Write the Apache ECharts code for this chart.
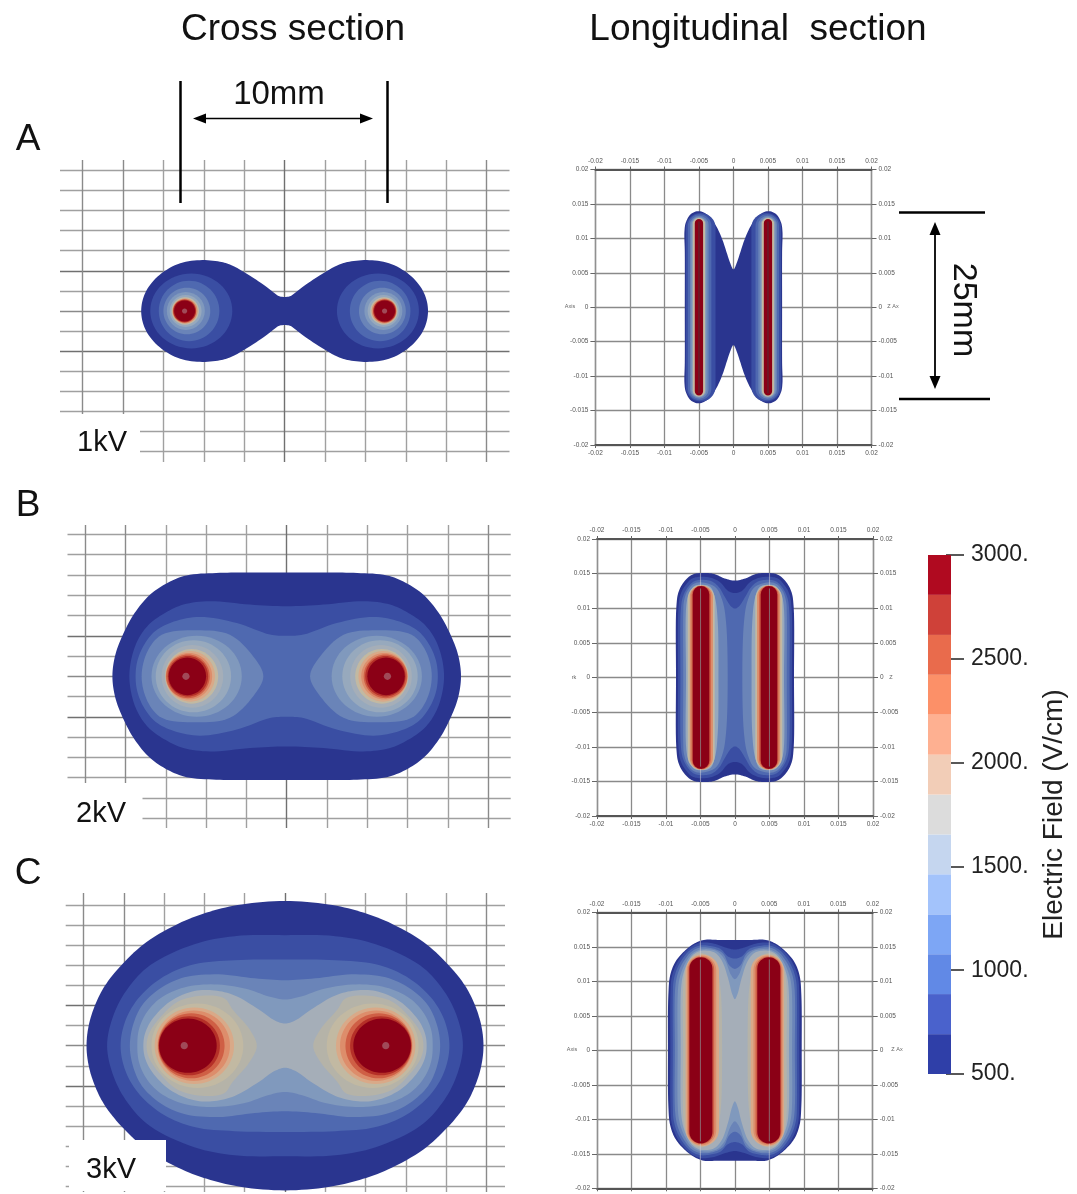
<!DOCTYPE html>
<html><head><meta charset="utf-8">
<style>html,body{margin:0;padding:0;background:#fff}#c{width:1077px;height:1194px}canvas{filter:blur(.5px)}</style>
<script src="https://cdn.jsdelivr.net/npm/echarts@6/dist/echarts.min.js"></script>
</head><body><div id="c"></div>
<script>
// ---------- data ----------
const crossXTicks = [-10,-8,-6,-4,-2,0,2,4,6,8,10];           // mm
const crossYTicks = [-7,-6,-5,-4,-3,-2,-1,0,1,2,3,4,5,6,7];   // mm
const longTickStep = 0.005;                                   // m
const colorbarTicks = [500,1000,1500,2000,2500,3000];
const colorbarEdges = [500,692,885,1077,1269,1462,1654,1846,2038,2231,2423,2615,2808,3000];
const colorbarColors = ['#2f3fa8','#4a62cc','#6189e6','#7da6f5','#a3c3fb','#c5d6ef','#dcdcdc','#f2cdb7','#feb091','#fc9068','#e96b4c','#cf4139','#b00a20'];
const levelColors = ['#2a358f','#3a4ea3','#4f69b0','#6a84b8','#8099bd','#97a9bd','#a5aeb8','#c2b9a2','#d9a988','#dd8d6b','#cf5f45','#b53028','#8b0016','#a04a58','#6d1826','#b5b3a8','rgba(205,205,215,.55)','#8c6a70'];

// b = outline quadrant, l = lobe upper half, e = ellipse [cx,rx,ry], s = stadium [xin,xout,ytop]; all mm
const crossAShapes = [
 ['b',0,[[0,.7],[.3,.75],[.7,1.05],[1.4,1.55],[2.63,2.28],[3.2,2.45],[4.2,2.53],[5.3,2.33],[6.3,1.7],[6.9,.9],[7.1,0]]],
 ['e',1,4.62,2.03,1.86],['e',2,4.73,1.5,1.5],['e',3,4.84,1.16,1.16],['e',4,4.89,.94,.94],['e',5,4.9,.79,.79],
 ['e',7,4.92,.68,.68],['e',9,4.93,.62,.62],['e',11,4.95,.57,.57],['e',12,4.95,.52,.52],['e',13,4.95,.13,.13]
];
const crossBShapes = [
 ['b',0,[[0,5.12],[2,5.12],[3.5,5.1],[4.97,4.98],[5.9,4.62],[6.79,4.02],[7.55,3.12],[8.1,2.12],[8.5,1.08],[8.65,0]]],
 ['b',1,[[0,3.46],[1.82,3.54],[3.8,3.71],[5.13,3.54],[6,3.15],[6.79,2.6],[7.3,1.95],[7.65,1.1],[7.81,0]]],
 ['b',2,[[0,2],[.83,2.06],[2.48,2.63],[4.3,2.93],[5.6,2.7],[6.5,2.25],[7.05,1.6],[7.4,.8],[7.5,0]]],
 ['l',3,[[1.16,0],[1.66,.98],[2.82,2.05],[4.47,2.27],[6.2,2.05],[6.9,1.25],[7.2,0]]],
 ['e',4,4.47,2.24,2],['e',5,4.63,1.87,1.78],['e',6,4.68,1.53,1.55],['e',7,4.72,1.32,1.35],['e',8,4.78,1.22,1.25],
 ['e',9,4.85,1.15,1.15],['e',10,4.9,1.08,1.08],['e',11,4.9,1,1],['e',12,4.93,.93,.93],['e',13,5,.18,.18]
];
const crossCShapes = [
 ['b',0,[[0,7.2],[2.15,7.03],[3.7,6.68],[5.13,6.15],[6.87,5.16],[8.03,4.1],[8.86,3.1],[9.35,2.2],[9.72,1.1],[9.85,0]]],
 ['b',1,[[0,5.5],[2.5,5.45],[4.5,5.05],[6.7,4],[7.8,2.85],[8.5,1.55],[8.83,0]]],
 ['b',2,[[0,4.29],[2.5,4.25],[4.5,4.05],[6,3.45],[7.2,2.45],[7.9,1.3],[8.16,0]]],
 ['b',3,[[0,3.26],[1.5,3.35],[3.3,3.55],[5,3.4],[6.2,2.85],[7.1,2],[7.55,1],[7.7,0]]],
 ['b',4,[[0,2.3],[.8,2.45],[2,2.85],[3.5,3.05],[5,2.9],[6.2,2.35],[6.9,1.6],[7.25,.8],[7.33,0]]],
 ['b',6,[[0,1.1],[.5,1.25],[1.3,1.8],[2.5,2.5],[3.5,2.75],[4.5,2.72],[5.7,2.2],[6.6,1.3],[6.95,.6],[7.03,0]]],
 ['l',15,[[1.4,0],[1.75,.8],[2.6,1.8],[3,2.35],[4,2.5],[5.3,2.2],[6.2,1.4],[6.75,.6],[6.87,0]]],
 ['e',7,4.35,2.28,2.1],['e',8,4.5,1.97,1.9],['e',9,4.53,1.8,1.75],['e',10,4.65,1.65,1.62],['e',11,4.75,1.52,1.47],['e',12,4.82,1.43,1.35],['e',13,5,.18,.18]
];
const longAShapes = [
 ['b',0,[[0,5.5],[.5,6.5],[1,8],[1.6,9.8],[2.4,11.6],[3.6,13.3],[5,13.95],[6.2,13.5],[6.9,12.3],[7.1,11],[7.05,8],[7.05,0]]],
 ['s',1,2.6,6.9,13.7],['s',2,3.2,6.6,13.5],['s',3,3.6,6.3,13.3],['s',4,3.9,6.1,13.1],['s',7,4.1,5.9,13],['s',12,4.4,5.6,12.8],['s',14,4.87,5.13,12.5]
];
const longBShapes = [
 ['b',0,[[0,14],[1.5,14.3],[3,14.95],[4.8,15.1],[6.2,14.85],[7.4,13.8],[8.2,12.3],[8.5,10.2],[8.55,0]]],
 ['b',1,[[0,12.2],[1,12.5],[2.2,13.8],[3.5,14.4],[4.9,14.55],[6.2,14.3],[7.2,13.3],[7.9,12],[8.2,10],[8.25,0]]],
 ['b',2,[[0,9.95],[.6,10.3],[1.4,11.5],[2.3,13],[3.4,13.9],[4.9,14.1],[6,13.85],[7,12.8],[7.6,11.5],[7.85,9.8],[7.9,0]]],
 ['l',3,[[1.06,0],[1.3,8],[1.8,11],[2.8,13],[4.9,13.75],[6,13.5],[6.9,12.5],[7.4,11],[7.5,9.5],[7.5,0]]],
 ['l',5,[[2.4,0],[2.5,8],[2.9,11.5],[3.6,13.1],[4.9,13.4],[5.9,13.2],[6.7,12],[7.05,10.5],[7.1,0]]],
 ['s',7,2.95,6.85,13.35],['s',9,3.2,6.55,13.3],['s',10,3.5,6.3,13.25],['s',16,4.92,5.08,15.1],['s',12,3.72,6.13,13.2],['s',17,4.92,5.06,12.9]
];
const longCShapes = [
 ['b',0,[[0,16],[2.5,16],[4.5,16],[6,15.4],[7.5,14.2],[8.7,12.7],[9.4,10.8],[9.65,8],[9.7,0]]],
 ['b',1,[[0,14.6],[1.4,14.9],[3,15.45],[5,15.6],[6.5,14.9],[7.8,13.6],[8.7,12],[9.2,10.4],[9.35,8],[9.35,0]]],
 ['b',2,[[0,13.3],[1,13.6],[2.1,14.7],[3.5,15.1],[5,15.2],[6.4,14.6],[7.5,13.4],[8.4,11.8],[8.9,10],[9,8],[9,0]]],
 ['b',3,[[0,11.8],[.8,12.3],[1.7,14],[3,14.7],[5,14.9],[6.3,14.3],[7.3,13.1],[8.1,11.6],[8.6,9.6],[8.7,0]]],
 ['b',4,[[0,10.3],[.6,11],[1.5,13.2],[2.7,14.4],[5,14.6],[6.2,14],[7.1,12.8],[7.8,11.2],[8.2,9.4],[8.3,0]]],
 ['b',6,[[0,7.4],[.4,8.2],[1,10.5],[1.9,13],[3,14.2],[5,14.4],[6.1,13.8],[6.9,12.6],[7.5,11],[7.8,9],[7.85,0]]],
 ['l',15,[[1.85,0],[2,8],[2.4,11],[3,13.1],[4.9,14.1],[6.1,13.7],[6.9,12.4],[7.4,10.5],[7.5,0]]],
 ['s',8,2.3,7.15,13.9],['s',9,2.7,6.95,13.75],['s',10,3,6.75,13.6],['s',16,4.92,5.08,16],['s',12,3.25,6.6,13.5],['s',17,4.93,5.07,13.2]
];

// ---------- helpers ----------
const FONT = '"Liberation Sans", Arial, sans-serif';
function closedBridge(q){ const a=q.slice();
  for(let i=q.length-2;i>=0;i--) a.push([q[i][0],-q[i][1]]);
  for(let i=1;i<q.length;i++) a.push([-q[i][0],-q[i][1]]);
  for(let i=q.length-2;i>0;i--) a.push([-q[i][0],q[i][1]]);
  return a; }
function closedLobe(u,sign){ const a=u.map(p=>[sign*p[0],p[1]]);
  for(let i=u.length-2;i>0;i--) a.push([sign*u[i][0],-u[i][1]]);
  return a; }
// centripetal Catmull-Rom outline through the read points
function roundOutline(P){ const n=P.length,out=[];
  const knot=(a,b)=>Math.pow(Math.hypot(b[0]-a[0],b[1]-a[1]),.5)||1e-6;
  const lerp=(a,b,ta,tb,t)=>{const w=(t-ta)/(tb-ta);return [a[0]+(b[0]-a[0])*w,a[1]+(b[1]-a[1])*w];};
  for(let i=0;i<n;i++){
    const p0=P[(i-1+n)%n],p1=P[i],p2=P[(i+1)%n],p3=P[(i+2)%n];
    const t0=0,t1=t0+knot(p0,p1),t2=t1+knot(p1,p2),t3=t2+knot(p2,p3);
    for(let j=0;j<8;j++){
      const t=t1+(t2-t1)*j/8;
      const A1=lerp(p0,p1,t0,t1,t),A2=lerp(p1,p2,t1,t2,t),A3=lerp(p2,p3,t2,t3,t);
      const B1=lerp(A1,A2,t0,t2,t),B2=lerp(A2,A3,t1,t3,t);
      out.push(lerp(B1,B2,t1,t2,t));
    }
  }
  return out; }
function shapeRender(shapes,unit){
  return function(params,api){
    const s=shapes[api.value(0)], col=levelColors[s[1]], kids=[];
    const C=p=>api.coord([p[0]*unit,p[1]*unit]);
    const poly=pts=>kids.push({type:'polygon',shape:{points:roundOutline(pts).map(C)},style:{fill:col}});
    if(s[0]==='b') poly(closedBridge(s[2]));
    if(s[0]==='l'){ poly(closedLobe(s[2],1)); poly(closedLobe(s[2],-1)); }
    if(s[0]==='e') [1,-1].forEach(k=>{
      const c=C([k*s[2],0]), e=C([k*s[2]+s[3],s[4]]);
      kids.push({type:'ellipse',shape:{cx:c[0],cy:c[1],rx:Math.abs(e[0]-c[0]),ry:Math.abs(e[1]-c[1])},style:{fill:col}});
    });
    if(s[0]==='s') [1,-1].forEach(k=>{
      const a=C([k*s[2],s[4]]), b=C([k*s[3],-s[4]]);
      const x=Math.min(a[0],b[0]), w=Math.abs(a[0]-b[0]);
      kids.push({type:'rect',shape:{x:x,y:a[1],width:w,height:b[1]-a[1],r:w/2},style:{fill:col}});
    });
    return {type:'group',children:kids};
  };
}
const grid=[],xAxis=[],yAxis=[],series=[];
const darkRows=['#a0a0a0','#a0a0a0','#a0a0a0','#a0a0a0','#a0a0a0','#707070','#a0a0a0','#8a8a8a','#a0a0a0','#707070','#a0a0a0','#a0a0a0','#a0a0a0','#a0a0a0','#a0a0a0'];
const darkCols=['#8a8a8a','#8a8a8a','#a0a0a0','#a0a0a0','#a0a0a0','#707070','#a0a0a0','#a0a0a0','#a0a0a0','#a0a0a0','#8a8a8a'];
function crossPanel(shapes,p){
  const i=grid.length;
  grid.push({left:p.L,top:p.T,width:p.R-p.L,height:p.B-p.T,outerBoundsMode:'none'});
  xAxis.push({type:'value',gridIndex:i,min:(p.L-p.cx)/p.sx,max:(p.R-p.cx)/p.sx,axisLine:{show:false},axisLabel:{show:false},
    axisTick:{show:false,customValues:crossXTicks},splitLine:{show:true,lineStyle:{color:darkCols,width:1.4}}});
  yAxis.push({type:'value',gridIndex:i,min:(p.cy-p.B)/p.sy,max:(p.cy-p.T)/p.sy,axisLine:{show:false},axisLabel:{show:false},
    axisTick:{show:false,customValues:crossYTicks},splitLine:{show:true,lineStyle:{color:darkRows,width:1.4}}});
  series.push({type:'custom',coordinateSystem:'cartesian2d',xAxisIndex:xAxis.length-1,yAxisIndex:yAxis.length-1,silent:true,
    animation:false,clip:false,renderItem:shapeRender(shapes,1),data:shapes.map((s,k)=>[k,0]),z:5});
}
const longFmt=v=>String(+v.toFixed(3));
function longPanel(shapes,p){
  const i=grid.length;
  const mk=(pos,show,isX)=>({type:'value',gridIndex:i,position:pos,min:-0.02,max:0.02,interval:longTickStep,
    axisLine:{show:true,onZero:false,lineStyle:{color:isX?'#555':'#909090',width:isX?1.8:1.4}},
    axisLabel:{fontSize:6.5,color:'#555',fontFamily:FONT,margin:isX?5:7,formatter:longFmt},
    axisTick:{show:true,length:isX?3:5,lineStyle:{color:'#666'}},
    splitLine:{show:show,lineStyle:{color:'#8a8a8a',width:1.3}}});
  grid.push({left:p.L,top:p.T,width:p.R-p.L,height:p.B-p.T,outerBoundsMode:'none'});
  xAxis.push(mk('bottom',true,true),mk('top',false,true));
  yAxis.push(mk('left',true,false),mk('right',false,false));
  series.push({type:'custom',coordinateSystem:'cartesian2d',xAxisIndex:xAxis.length-2,yAxisIndex:yAxis.length-2,silent:true,
    animation:false,clip:false,renderItem:shapeRender(shapes,0.001),data:shapes.map((s,k)=>[k,0]),z:5});
}
crossPanel(crossAShapes,{cx:284.6,cy:311,sx:20.2,sy:20.1,L:60,R:509.5,T:160,B:462});
crossPanel(crossBShapes,{cx:286.7,cy:676.3,sx:20.15,sy:20.26,L:67.5,R:510.7,T:525,B:828});
crossPanel(crossCShapes,{cx:285,cy:1045.7,sx:20.15,sy:20.1,L:65.7,R:505,T:893,B:1192});
longPanel(longAShapes,{L:595.4,R:871.5,T:169.5,B:445});
longPanel(longBShapes,{L:597,R:873,T:539,B:816});
longPanel(longCShapes,{L:597,R:872.7,T:912.3,B:1188.3});

// colour bar
{const i=grid.length;
 grid.push({left:928,top:555,width:23,height:519,outerBoundsMode:'none'});
 xAxis.push({type:'value',gridIndex:i,min:0,max:1,show:false});
 yAxis.push({type:'value',gridIndex:i,position:'right',offset:13,min:500,max:3000,interval:500,
   axisLine:{show:false,onZero:false},axisTick:{show:true,inside:true,length:18,lineStyle:{color:'#222',width:1.5}},splitLine:{show:false},
   axisLabel:{color:'#222',fontSize:23,fontFamily:FONT,margin:7,formatter:v=>colorbarTicks.includes(v)?v+'.':''},
   name:'Electric Field (V/cm)',nameLocation:'middle',nameRotate:90,nameGap:76,
   nameTextStyle:{fontSize:28,color:'#222',fontFamily:FONT}});
 series.push({type:'custom',coordinateSystem:'cartesian2d',xAxisIndex:xAxis.length-1,yAxisIndex:yAxis.length-1,silent:true,animation:false,
   renderItem:(params,api)=>{const a=api.coord([0,api.value(1)]),b=api.coord([1,api.value(0)]);
     return {type:'rect',shape:{x:a[0],y:a[1],width:b[0]-a[0],height:b[1]-a[1]},style:{fill:colorbarColors[params.dataIndex]}};},
   data:colorbarColors.map((c,k)=>[colorbarEdges[k],colorbarEdges[k+1]]),encode:{y:[0,1]},z:1});
}

// annotations
const T=(text,x,y,size,extra)=>Object.assign({type:'text',z:100,x:x,y:y,style:{text:text,font:size+'px '+FONT,fill:'#111',textAlign:'center',textVerticalAlign:'middle'}},extra||{});
const L=(x1,y1,x2,y2,w)=>({type:'line',z:100,shape:{x1,y1,x2,y2},style:{stroke:'#000',lineWidth:w||2.5}});
const H=(pts)=>({type:'polygon',z:100,shape:{points:pts},style:{fill:'#000'}});
const W=(x,y,w,h)=>({type:'rect',z:50,shape:{x,y,width:w,height:h},style:{fill:'#fff'}});
const small=(t,x,y)=>({type:'text',z:100,x,y,style:{text:t,font:'5.5px '+FONT,fill:'#666',textAlign:'center',textVerticalAlign:'middle'}});
const graphic=[
 W(50,414,90,52),W(50,783,92.5,48),W(69,1140,97,51),
 T('Cross section',293,30,37),T('Longitudinal  section',758,30,37),
 T('A',28,140,37),T('B',28,506,37),T('C',28,874,37),
 T('1kV',102,443,29),T('2kV',101,814,29),T('3kV',111,1170,29),
 T('10mm',279,95,33),
 L(180.5,81,180.5,203),L(387.5,81,387.5,203),
 L(205,118.5,360,118.5,1.5),H([[193,118.5],[206,113.5],[206,123.5]]),H([[373,118.5],[360,113.5],[360,123.5]]),
 L(899,212.5,985,212.5),L(899,399,990,399),
 L(935,232,935,378,1.8),H([[935,222],[929.5,235],[940.5,235]]),H([[935,389],[929.5,376],[940.5,376]]),
 T('25mm',963,310,34,{rotation:-Math.PI/2}),
 small('Axis',570,306),small('Z Ax',893,306),small('rk',574,677),small('Z',891,677),small('Axis',572,1049),small('Z Ax',897,1049)
];

const chart=echarts.init(document.getElementById('c'),null,{renderer:'canvas'});
chart.setOption({animation:false,backgroundColor:'#fff',grid,xAxis,yAxis,series,graphic:{elements:graphic}});
</script></body></html>
